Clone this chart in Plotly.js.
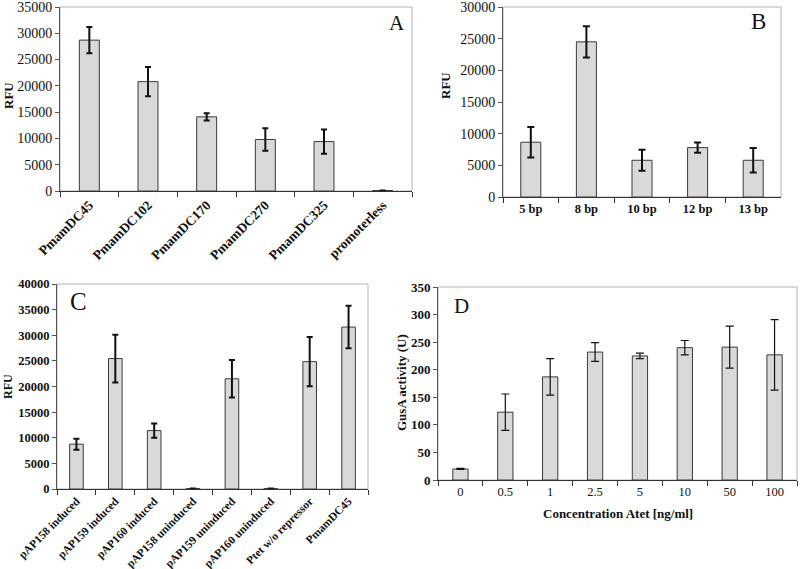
<!DOCTYPE html>
<html>
<head>
<meta charset="utf-8">
<script src="https://cdn.plot.ly/plotly-3.0.1.min.js"></script>
<style>
  html, body { margin: 0; padding: 0; background: #fff; }
  #chart { width: 800px; height: 569px; }
</style>
</head>
<body>
<div id="chart"></div>
<script>
// panel A - promoter truncations
const aLabels = ["PmamDC45", "PmamDC102", "PmamDC170", "PmamDC270", "PmamDC325", "promoterless"];
const aValues = [28700, 20800, 14100, 9800, 9400, 90];
const aErrors = [2500, 2800, 700, 2150, 2300, 0];

// panel B - spacer length
const bLabels = ["5 bp", "8 bp", "10 bp", "12 bp", "13 bp"];
const bValues = [8650, 24500, 5800, 7800, 5800];
const bErrors = [2400, 2480, 1650, 800, 1950];

// panel C - induced / uninduced constructs
const cLabels = ["pAP158 induced", "pAP159 induced", "pAP160 induced", "pAP158 uninduced",
                 "pAP159 uninduced", "pAP160 uninduced", "Ptet w/o repressor", "PmamDC45"];
const cValues = [8750, 25450, 11400, 90, 21500, 90, 24850, 31600];
const cErrors = [1070, 4650, 1400, 0, 3650, 0, 4800, 4150];

// panel D - GusA activity vs. Atet concentration
const dLabels = ["0", "0.5", "1", "2.5", "5", "10", "50", "100"];
const dValues = [20, 123, 187, 232, 225, 240, 241, 227];
const dErrors = [1, 33, 33, 17, 5, 13, 38, 64];

const W = 800, H = 569;
const px = x => x / W;
const py = y => 1 - y / H;

const serif = "Liberation Serif, Times New Roman, serif";
const ink = "#111";
const barFill = "#d9d9d9";
const barLine = "#3a3a3a";

function barTrace(labels, values, errors, xa, ya, width, errThick, errW) {
    return {
        type: "bar",
        x: labels,
        y: values,
        xaxis: xa,
        yaxis: ya,
        width: width,
        marker: { color: barFill, line: { color: barLine, width: 1 } },
        error_y: { type: "data", array: errors, visible: true, color: "#111",
                   thickness: errThick, width: errW },
        hoverinfo: "x+y",
        showlegend: false
    };
}

const traces = [
    barTrace(aLabels, aValues, aErrors, "x", "y", 0.34, 2, 3),
    barTrace(bLabels, bValues, bErrors, "x2", "y2", 0.36, 2, 3.5),
    barTrace(cLabels, cValues, cErrors, "x3", "y3", 0.35, 2, 3),
    barTrace(dLabels, dValues, dErrors, "x4", "y4", 0.34, 1.2, 4)
];

function xAxis(domain, anchor, fontSize, bold, angle) {
    return {
        domain: domain, anchor: anchor, type: "category",
        showgrid: false, zeroline: false,
        showline: true, linecolor: "#333", linewidth: 1,
        ticks: "outside", ticklen: 5, tickcolor: "#333", tickson: "boundaries",
        tickangle: angle, ticklabeloverflow: "allow",
        tickfont: { family: serif, size: fontSize, color: ink, weight: bold ? "bold" : "normal" },
        fixedrange: true
    };
}

function yAxis(domain, anchor, maxVal, dtick, fontSize, bold) {
    return {
        domain: domain, anchor: anchor,
        range: [0, maxVal], dtick: dtick, tickformat: "d",
        showgrid: false, zeroline: false,
        showline: true, linecolor: "#555", linewidth: 1,
        ticks: "outside", ticklen: 4, tickcolor: "#555",
        ticklabeloverflow: "allow",
        tickfont: { family: serif, size: fontSize, color: ink, weight: bold ? "bold" : "normal" },
        fixedrange: true
    };
}

// plot-area frames (gray top/right edges)
function frame(xa, ya) {
    return {
        type: "rect", xref: xa + " domain", yref: ya + " domain",
        x0: 0, x1: 1, y0: 0, y1: 1,
        line: { color: "#b3b3b3", width: 1 }, layer: "below"
    };
}

function note(text, x, y, size, bold, angle) {
    return {
        text: text, xref: "paper", yref: "paper", x: px(x), y: py(y),
        xanchor: "center", yanchor: "middle", showarrow: false,
        textangle: angle || 0,
        font: { family: serif, size: size, color: ink, weight: bold ? "bold" : "normal" }
    };
}

const layout = {
    width: W, height: H,
    margin: { l: 0, r: 0, t: 0, b: 0 },
    paper_bgcolor: "#fff", plot_bgcolor: "#fff",
    showlegend: false,

    xaxis:  xAxis([px(60), px(412)], "y", 13.5, true, -45),
    yaxis:  yAxis([py(191), py(7)], "x", 35000, 5000, 14, false),

    xaxis2: xAxis([px(503), px(781)], "y2", 12.5, true, 0),
    yaxis2: yAxis([py(197), py(7)], "x2", 30000, 5000, 14, false),

    xaxis3: xAxis([px(57), px(368)], "y3", 11.5, true, -45),
    yaxis3: yAxis([py(489), py(284)], "x3", 40000, 5000, 12.5, true),

    xaxis4: xAxis([px(438), px(797)], "y4", 12.5, false, 0),
    yaxis4: yAxis([py(480), py(287)], "x4", 350, 50, 13, true),

    shapes: [frame("x", "y"), frame("x2", "y2"), frame("x3", "y3"), frame("x4", "y4")],

    annotations: [
        note("A", 397, 23, 21, false),
        note("B", 758, 22, 23, false),
        note("C", 78, 302, 25, false),
        note("D", 461, 306, 21, false),
        note("RFU", 8, 96, 13, true, -90),
        note("RFU", 445, 86, 13, true, -90),
        note("RFU", 8, 387, 12, true, -90),
        note("GusA activity (U)", 401, 383, 13, true, -90),
        note("Concentration Atet [ng/ml]", 618, 513, 13, true)
    ]
};

Plotly.newPlot("chart", traces, layout, { staticPlot: true, displayModeBar: false });
</script>
</body>
</html>
